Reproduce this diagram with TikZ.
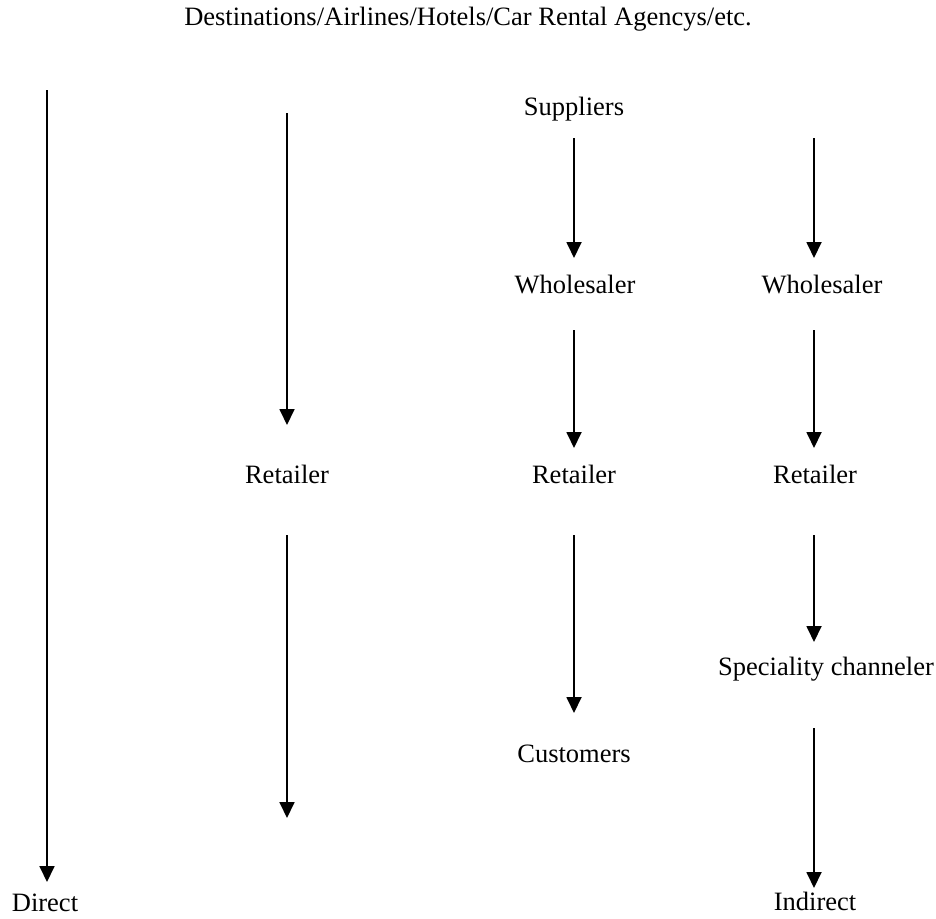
\documentclass[tikz,border=0pt]{standalone}
\usepackage{fontspec}
\setmainfont{Liberation Serif}
\usetikzlibrary{arrows.meta}
\begin{document}
\begin{tikzpicture}[x=1pt,y=-1pt,
  lbl/.style={anchor=base,inner sep=0pt,font=\fontsize{26.5}{30}\selectfont},
  flow/.style={line width=1.8pt,-{Triangle[width=15pt,length=16pt]}}]
\useasboundingbox (0,0) rectangle (936,918);
% labels
\node[lbl] (title) at (468,25) {Destinations/Airlines/Hotels/Car Rental Agencys/etc.};
\node[lbl] (sup) at (574,115) {Suppliers};
\node[lbl] (wh3) at (575,293) {Wholesaler};
\node[lbl] (wh4) at (822,293) {Wholesaler};
\node[lbl] (re2) at (287,483) {Retailer};
\node[lbl] (re3) at (574,483) {Retailer};
\node[lbl] (re4) at (815,483) {Retailer};
\node[lbl] (spc) at (826,675) {Speciality channeler};
\node[lbl] (cus) at (574,762) {Customers};
\node[lbl] (dir) at (45,911) {Direct};
\node[lbl] (ind) at (815,910) {Indirect};
% arrow end points
\coordinate (c1s) at (47,90);   \coordinate (c1e) at (47,882);
\coordinate (c2as) at (287,113); \coordinate (c2ae) at (287,425);
\coordinate (c2bs) at (287,535); \coordinate (c2be) at (287,818);
\coordinate (c3as) at (574,138); \coordinate (c3ae) at (574,258);
\coordinate (c3bs) at (574,330); \coordinate (c3be) at (574,448);
\coordinate (c3cs) at (574,535); \coordinate (c3ce) at (574,713);
\coordinate (c4as) at (814,138); \coordinate (c4ae) at (814,258);
\coordinate (c4bs) at (814,330); \coordinate (c4be) at (814,448);
\coordinate (c4cs) at (814,535); \coordinate (c4ce) at (814,642);
\coordinate (c4ds) at (814,728); \coordinate (c4de) at (814,888);
% arrows
\draw[flow] (c1s) -- (c1e);
\draw[flow] (c2as) -- (c2ae);
\draw[flow] (c2bs) -- (c2be);
\draw[flow] (c3as) -- (c3ae);
\draw[flow] (c3bs) -- (c3be);
\draw[flow] (c3cs) -- (c3ce);
\draw[flow] (c4as) -- (c4ae);
\draw[flow] (c4bs) -- (c4be);
\draw[flow] (c4cs) -- (c4ce);
\draw[flow] (c4ds) -- (c4de);
\end{tikzpicture}
\end{document}
